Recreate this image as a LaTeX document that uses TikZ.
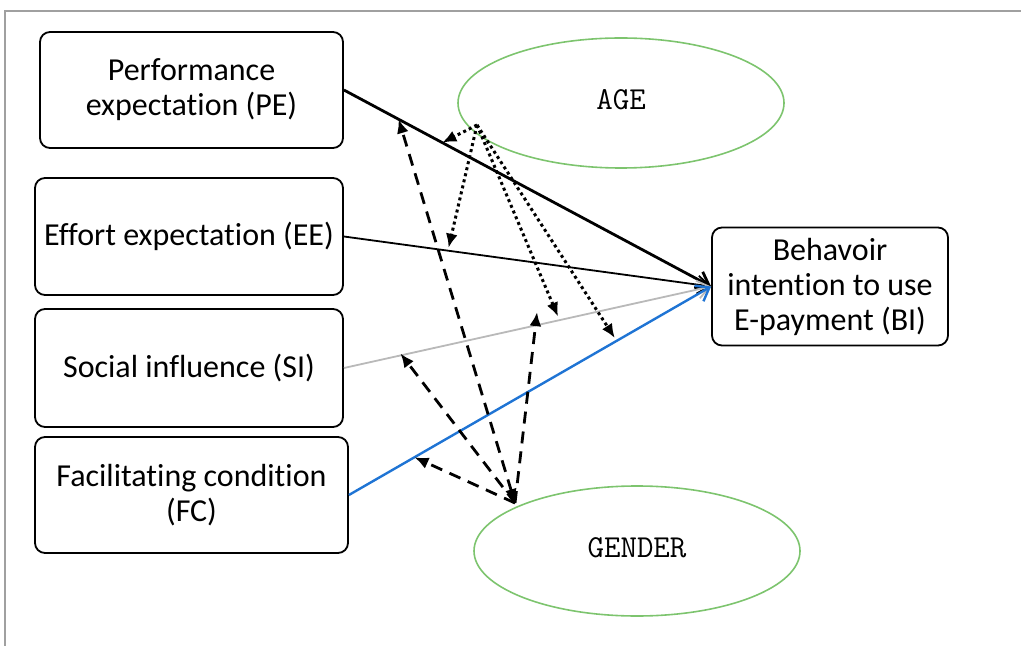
\documentclass[tikz,border=0pt]{standalone}
\usepackage{fontspec}
\setmainfont{Carlito}[Ligatures=CommonOff]
\usetikzlibrary{arrows.meta,calc,shapes.geometric}

\begin{document}
\begin{tikzpicture}[x=0.5pt,y=-0.5pt,
  factor/.style={draw,line width=0.9pt,rounded corners=5pt,align=center,
    inner sep=0pt,font=\fontsize{16}{17.5}\selectfont},
  moder/.style={ellipse,draw=ellgreen,line width=0.8pt,inner sep=0pt,
    minimum width=163pt,minimum height=65pt,font=\ttfamily\fontsize{16}{18}\selectfont},
  agearrow/.style={line width=1.5pt,dash pattern=on 1.5pt off 1.6pt,
    -{Latex[length=7pt,width=6pt]}},
  genarrow/.style={line width=1.4pt,dash pattern=on 6pt off 4pt,
    -{Latex[length=7pt,width=6pt]}}]
\definecolor{ellgreen}{HTML}{7DC46E}
\definecolor{fcblue}{HTML}{1F74D4}
\definecolor{framegray}{HTML}{A0A0A0}
\useasboundingbox (0,0) rectangle (1021,646);
\draw[framegray,line width=0.8pt] (5,646) -- (5,11) -- (1021,11);

% constructs
\node[factor,minimum width=151.5pt,minimum height=58pt] (PE) at (191.5,90) {Performance\\expectation (PE)};
\node[factor,minimum width=154pt,minimum height=58.5pt] (EE) at (189,236.5) {Effort expectation (EE)};
\node[factor,minimum width=154pt,minimum height=59pt] (SI) at (189,368) {Social influence (SI)};
\node[factor,minimum width=156.5pt,minimum height=58pt] (FC) at (191.5,495) {Facilitating condition\\(FC)};
\node[factor,minimum width=118pt,minimum height=59pt] (BI) at (830,286.5) {Behavoir\\intention to use\\E-payment (BI)};

% moderators
\node[moder] (AGE) at (621,103) {\raisebox{3pt}{AGE}};
\node[moder] (GENDER) at (637,551) {\raisebox{3pt}{GENDER}};
\coordinate (afoot) at (477,125);
\coordinate (gfoot) at (515,503);

% direct paths
\foreach \src/\clr/\wd in {PE/black/1.4pt,EE/black/0.9pt,SI/gray!55/0.9pt,FC/fcblue/1.2pt}
  {\draw[\clr,line width=\wd,-{Straight Barb[length=6pt,width=9pt]}] (\src.east) -- (BI.west);}

% age effects
\foreach \src/\f/\dy in {PE/0.268/0,EE/0.285/-3,SI/0.583/-4,FC/0.734/-4}
  {\draw[agearrow] (afoot) -- ($(\src.east)!\f!(BI.west)+(0,\dy)$);}

% gender effects
\draw[genarrow,{Latex[length=7pt,width=6pt]}-{Latex[length=7pt,width=6pt]}] (gfoot) -- ($(PE.east)!0.149!(BI.west)$);
\foreach \src/\f/\dy in {SI/0.154/-2,FC/0.181/0,SI/0.526/-13}
  {\draw[genarrow] (gfoot) -- ($(\src.east)!\f!(BI.west)+(0,\dy)$);}
\end{tikzpicture}
\end{document}
